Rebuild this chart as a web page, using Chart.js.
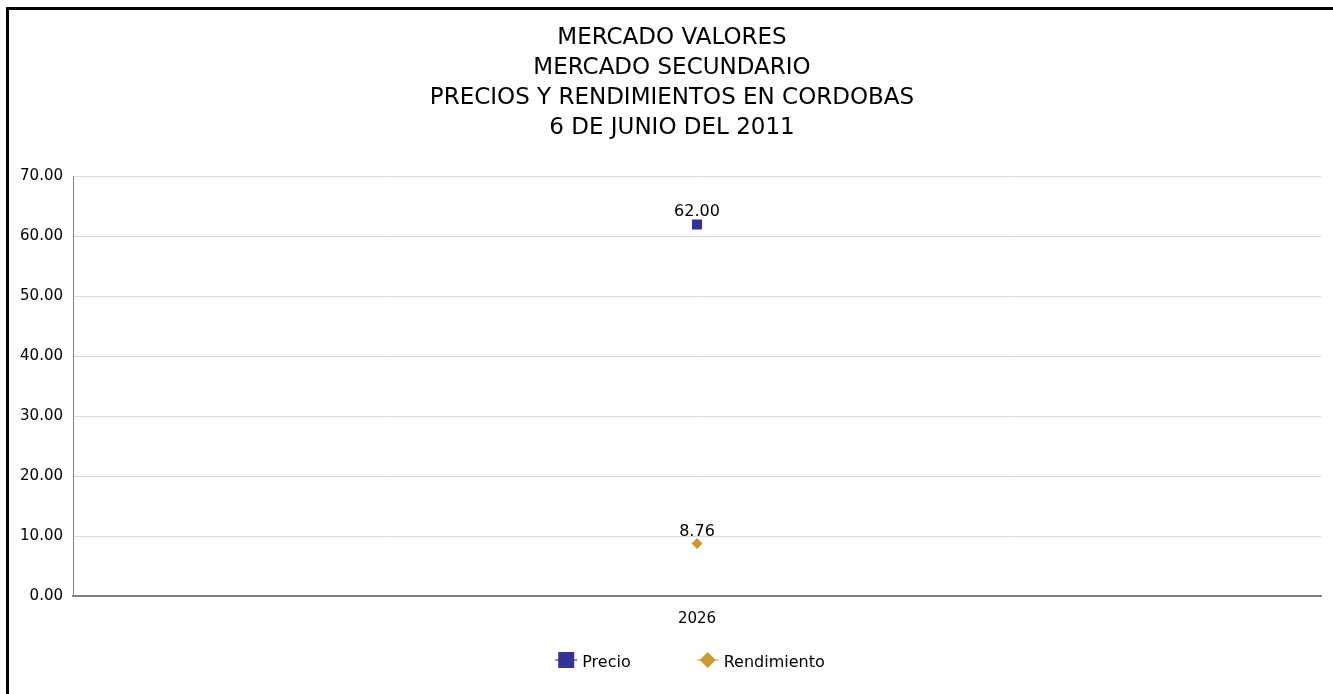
<!DOCTYPE html>
<html>
<head>
<meta charset="utf-8">
<title>Mercado Valores</title>
<script src="https://cdn.jsdelivr.net/npm/chart.js@4"></script>
<style>
  html, body { margin: 0; padding: 0; background: #fff; overflow: hidden; }
  #wrap { position: absolute; left: 0; top: 0; width: 1333px; height: 694px; }
  #frame { position: absolute; left: 6px; top: 7px; width: 1400px; height: 800px;
           border-left: 3px solid #000; border-top: 3px solid #000; pointer-events: none; }
</style>
</head>
<body>
<div id="wrap">
  <canvas id="myChart" width="1333" height="694"></canvas>
</div>
<div id="frame"></div>
<script>
    "use strict";
    /* data */
    var categories = ['2026'];
    var precio = [62.00];
    var rendimiento = [8.76];
    var titleLines = ['MERCADO VALORES', 'MERCADO SECUNDARIO',
                      'PRECIOS Y RENDIMIENTOS EN CORDOBAS', '6 DE JUNIO DEL 2011'];

    var fontName = "'DejaVu Sans', Tahoma, sans-serif";

    /* the title sits a little right of the canvas centre in the original */
    var shiftTitle = {
        id: 'shiftTitle',
        afterLayout: function (chart) {
            if (chart.titleBlock) {
                chart.titleBlock.left = 23;
            }
        }
    };

    /* values written over each point */
    var pointLabels = {
        id: 'pointLabels',
        afterDatasetsDraw: function (chart) {
            var ctx = chart.ctx;
            ctx.save();
            ctx.font = '16px ' + fontName;
            ctx.fillStyle = '#000';
            ctx.textAlign = 'center';
            ctx.textBaseline = 'alphabetic';
            chart.data.datasets.forEach(function (ds, i) {
                var meta = chart.getDatasetMeta(i);
                meta.data.forEach(function (pt, j) {
                    ctx.fillText(ds.data[j].toFixed(2), pt.x, pt.y - ds.pointRadius * 0.7 - 4);
                });
            });
            ctx.restore();
        }
    };

    /* legend drawn by hand: marker with a thin line through it, wide gap between items */
    var lineLegend = {
        id: 'lineLegend',
        afterDraw: function (chart) {
            var ctx = chart.ctx;
            var area = chart.chartArea;
            var y = 660;
            var markW = 22, gapText = 5, gapItem = 66;
            ctx.save();
            ctx.font = '16px ' + fontName;
            var items = chart.data.datasets.map(function (ds) {
                return { ds: ds, w: ctx.measureText(ds.label).width };
            });
            var total = 0;
            items.forEach(function (it, k) {
                total += markW + gapText + it.w + (k > 0 ? gapItem : 0);
            });
            var x = (area.left + area.right) / 2 - 7 - total / 2;
            items.forEach(function (it, k) {
                if (k > 0) { x += gapItem; }
                var cx = x + markW / 2;
                ctx.strokeStyle = it.ds.legendLine;
                ctx.lineWidth = 2;
                ctx.beginPath();
                ctx.moveTo(x, y);
                ctx.lineTo(x + markW, y);
                ctx.stroke();
                ctx.fillStyle = it.ds.backgroundColor;
                ctx.beginPath();
                if (it.ds.pointStyle === 'rect') {
                    ctx.rect(cx - 8, y - 8, 16, 16);
                } else {
                    ctx.moveTo(cx, y - 8);
                    ctx.lineTo(cx + 8, y);
                    ctx.lineTo(cx, y + 8);
                    ctx.lineTo(cx - 8, y);
                    ctx.closePath();
                }
                ctx.fill();
                ctx.fillStyle = '#000';
                ctx.textAlign = 'left';
                ctx.textBaseline = 'middle';
                ctx.fillText(it.ds.label, x + markW + gapText, y + 3);
                x += markW + gapText + it.w;
            });
            ctx.restore();
        }
    };

    var ctx = document.getElementById('myChart');
    var chart = new Chart(ctx, {
        type: 'line',
        data: {
            labels: categories,
            datasets: [{
                label: 'Precio',
                data: precio,
                showLine: false,
                pointStyle: 'rect',
                pointRadius: 7.1,
                pointHoverRadius: 7.1,
                borderWidth: 0,
                backgroundColor: '#333399',
                borderColor: '#333399',
                legendLine: '#8c8cc8'
            }, {
                label: 'Rendimiento',
                data: rendimiento,
                showLine: false,
                pointStyle: 'rectRot',
                pointRadius: 5.5,
                pointHoverRadius: 5.5,
                borderWidth: 0,
                backgroundColor: '#CC9933',
                borderColor: '#CC9933',
                legendLine: '#e8cc99'
            }]
        },
        options: {
            responsive: false,
            animation: false,
            layout: { padding: { left: 0, right: 12, top: 0, bottom: 0 } },
            plugins: {
                title: {
                    display: true,
                    text: titleLines,
                    color: '#000',
                    font: { family: fontName, size: 23, weight: 'normal', lineHeight: 1.3 },
                    padding: { top: 23, bottom: 34 }
                },
                legend: { display: false },
                tooltip: { enabled: false }
            },
            scales: {
                x: {
                    offset: true,
                    grid: { display: false, drawTicks: false },
                    border: { color: '#808080', width: 2 },
                    ticks: { color: '#000', font: { family: fontName, size: 15 }, padding: 14 },
                    afterFit: function (scale) { scale.height = 98; }
                },
                y: {
                    min: 0,
                    max: 70,
                    grid: { color: '#d9d9d9', drawTicks: false },
                    border: { color: '#808080', width: 1 },
                    ticks: {
                        stepSize: 10,
                        color: '#000',
                        font: { family: fontName, size: 15 },
                        padding: 10,
                        callback: function (v) { return v.toFixed(2); }
                    },
                    afterFit: function (scale) { scale.width = 73; }
                }
            }
        },
        plugins: [shiftTitle, pointLabels, lineLegend]
    });
</script>
</body>
</html>
